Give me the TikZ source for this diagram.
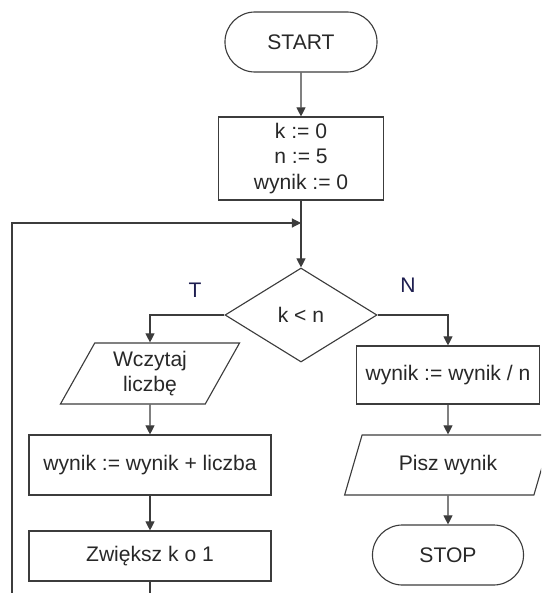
\documentclass[tikz,border=0pt]{standalone}
\usepackage{fontspec}
\setmainfont{Liberation Sans}
\usetikzlibrary{shapes.geometric,shapes.misc,arrows.meta}
\definecolor{linegray}{RGB}{60,60,60}
\definecolor{textgray}{RGB}{40,40,40}
\definecolor{labelblue}{RGB}{30,30,80}
\tikzset{
  block/.style={draw=linegray, line width=0.8pt, rectangle, inner sep=0pt,
                align=center, text=textgray, font=\fontsize{15}{18}\selectfont},
  term/.style={block, rounded rectangle},
  decide/.style={block, diamond},
  io/.style={block, trapezium, trapezium left angle=63, trapezium right angle=117,
             trapezium stretches=true},
  flow/.style={draw=linegray, line width=0.8pt, -{Triangle[length=6.5pt,width=6.5pt]}},
  branch/.style={text=labelblue, font=\fontsize{15}{18}\selectfont}
}
\begin{document}
\begin{tikzpicture}[x=0.025cm,y=-0.025cm]
\clip (0,0) rectangle (541,593);

\node[term, minimum width=3.8cm, minimum height=1.5cm] (start) at (301,42) {START};
\node[block, minimum width=4.125cm, minimum height=2.075cm] (init) at (301,158.5)
  {k := 0\\n := 5\\wynik := 0};
\node[decide, minimum width=3.8cm, minimum height=2.35cm] (cond) at (301,315) {k < n};

\node[io, minimum width=4.5cm, minimum height=1.525cm] (read) at (150,373.5) {Wczytaj\\liczbę};
\node[block, minimum width=6.05cm, minimum height=1.5cm] (sum) at (150,465) {wynik := wynik + liczba};
\node[block, minimum width=6.05cm, minimum height=1.25cm] (inc) at (150,556) {Zwiększ k o 1};

\node[block, minimum width=4.575cm, minimum height=1.45cm] (div) at (448,375) {wynik := wynik / n};
\node[io, minimum width=5.2cm, minimum height=1.5cm] (write) at (448,465) {Pisz wynik};
\node[term, minimum width=3.775cm, minimum height=1.5cm] (stop) at (448,555) {STOP};

\node[branch] (yes) at (195,290) {T};
\node[branch] (no) at (408,285) {N};

\coordinate (join) at (301,223);
\coordinate (loopbot) at (12,620);

\draw[flow] (start) -- (init);
\draw[flow] (init) -- (cond);
\draw[flow] (cond.west) -| (read);
\draw[flow] (read) -- (sum);
\draw[flow] (sum) -- (inc);
\draw[flow] (inc.south) |- (loopbot) |- (join);
\draw[flow] (cond.east) -| (div);
\draw[flow] (div) -- (write);
\draw[flow] (write) -- (stop);
\end{tikzpicture}
\end{document}
